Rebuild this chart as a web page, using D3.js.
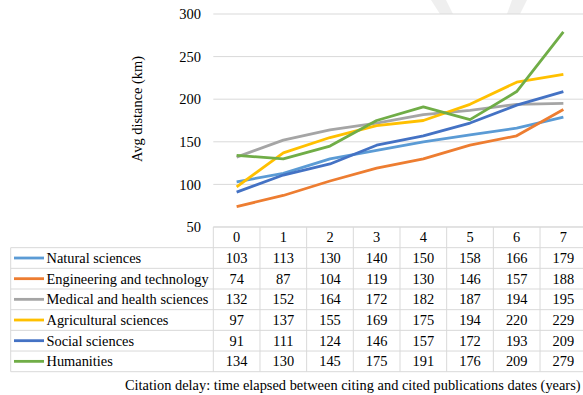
<!DOCTYPE html>
<html><head><meta charset="utf-8">
<script src="https://cdn.jsdelivr.net/npm/d3@7"></script>
<style>body{margin:0;background:#fff;} svg{display:block;} text{font-family:"Liberation Serif","Times New Roman",serif;fill:#000;}</style>
</head><body>
<script>
const delays = ["0","1","2","3","4","5","6","7"];
const seriesNames = ["Natural sciences","Engineering and technology","Medical and health sciences","Agricultural sciences","Social sciences","Humanities"];
const seriesColors = ["#5B9BD5","#ED7D31","#A5A5A5","#FFC000","#4472C4","#70AD47"];
const natural = [103,113,130,140,150,158,166,179];
const engineering = [74,87,104,119,130,146,157,188];
const medical = [132,152,164,172,182,187,194,195];
const agricultural = [97,137,155,169,175,194,220,229];
const social = [91,111,124,146,157,172,193,209];
const humanities = [134,130,145,175,191,176,209,279];
const yTicks = [50,100,150,200,250,300];
const seriesValues = [natural,engineering,medical,agricultural,social,humanities];

(function(){
const W=583,H=395, fs=14.4;
const svg=d3.select("body").append("svg").attr("width",W).attr("height",H);

// faint watermark
svg.append("path").attr("d","M431,0 L446,0 L453,14 L440,14 Z").attr("fill","#efefef");
svg.append("path").attr("d","M512,0 L527,0 L520,14 L507,14 Z").attr("fill","#efefef");

const x=d3.scaleBand().domain(delays).range([213.3,586.7]).paddingInner(0).paddingOuter(0);
const y=d3.scaleLinear().domain([50,300]).range([227,14]);
const gridColor="#d9d9d9";

svg.append("g").selectAll("line").data(yTicks).join("line")
  .attr("x1",213.3).attr("x2",W).attr("y1",d=>y(d)).attr("y2",d=>y(d))
  .attr("stroke",gridColor).attr("stroke-width",1);

const yAxis=d3.axisLeft(y).tickValues(yTicks).tickSize(0).tickPadding(0);
const ga=svg.append("g").attr("transform","translate(201,0)").call(yAxis);
ga.select(".domain").remove();
ga.selectAll("text").attr("font-family","Liberation Serif").attr("font-size",14.5).attr("fill","#000");

svg.append("text").attr("transform","translate(142,109) rotate(-90)").attr("text-anchor","middle")
  .attr("font-size",fs).text("Avg distance (km)");

const line=d3.line().x((d,i)=>x(delays[i])+x.bandwidth()/2).y(d=>y(d));
svg.append("g").selectAll("path").data(seriesValues).join("path")
  .attr("d",d=>line(d)).attr("fill","none")
  .attr("stroke",(d,i)=>seriesColors[i]).attr("stroke-width",2.8).attr("stroke-linejoin","round");

const rowH=20.67, tTop=227, legL=10.7;
const tg=svg.append("g");
tg.append("line").attr("x1",213.3).attr("x2",W).attr("y1",tTop).attr("y2",tTop).attr("stroke",gridColor);
for(let r=1;r<=7;r++){
  tg.append("line").attr("x1",legL).attr("x2",W).attr("y1",tTop+r*rowH).attr("y2",tTop+r*rowH).attr("stroke",gridColor);
}
tg.append("line").attr("x1",legL).attr("x2",legL).attr("y1",tTop+rowH).attr("y2",tTop+7*rowH).attr("stroke",gridColor);
delays.forEach(d=>{
  tg.append("line").attr("x1",x(d)).attr("x2",x(d)).attr("y1",tTop).attr("y2",tTop+7*rowH).attr("stroke",gridColor);
});
tg.selectAll("text.h").data(delays).join("text").attr("class","h")
  .attr("x",d=>x(d)+x.bandwidth()/2).attr("y",tTop+rowH/2+5).attr("text-anchor","middle")
  .attr("font-size",fs).text(d=>d);
seriesNames.forEach((name,i)=>{
  const cy=tTop+(i+1)*rowH+rowH/2;
  tg.append("line").attr("x1",14).attr("x2",44).attr("y1",cy).attr("y2",cy)
    .attr("stroke",seriesColors[i]).attr("stroke-width",2.8);
  tg.append("text").attr("x",46.5).attr("y",cy+5).attr("font-size",fs).text(name);
  seriesValues[i].forEach((v,j)=>{
    tg.append("text").attr("x",x(delays[j])+x.bandwidth()/2).attr("y",cy+5).attr("text-anchor","middle")
      .attr("font-size",fs).text(v);
  });
});

svg.append("text").attr("x",125).attr("y",390).attr("font-size",fs)
  .text("Citation delay: time elapsed between citing and cited publications dates (years)");
})();
</script>
</body></html>
